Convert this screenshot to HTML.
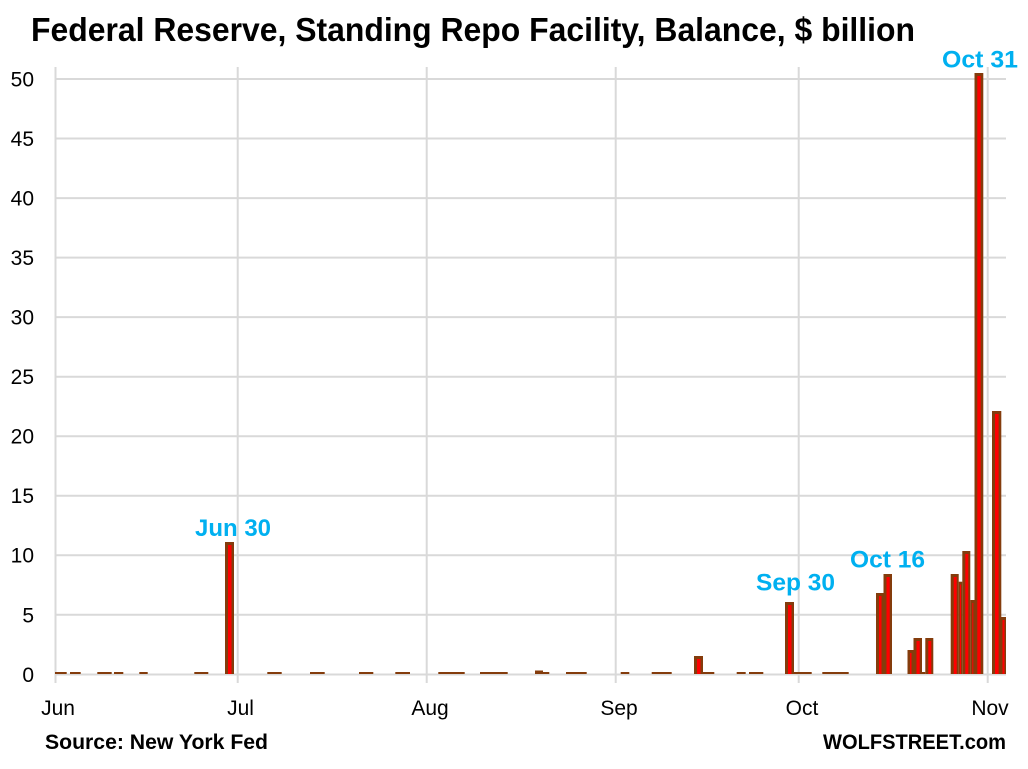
<!DOCTYPE html>
<html><head><meta charset="utf-8"><style>
html,body{margin:0;padding:0;background:#fff;}
svg{display:block;}
text{font-family:"Liberation Sans",Arial,sans-serif;}
</style></head><body>
<svg width="1028" height="769" viewBox="0 0 1028 769" xmlns="http://www.w3.org/2000/svg">
<rect width="1028" height="769" fill="#fff"/>
<text x="31" y="41" font-size="33" font-weight="bold" fill="#000" textLength="884" lengthAdjust="spacingAndGlyphs">Federal Reserve, Standing Repo Facility, Balance, $ billion</text>
<g stroke="#D9D9D9" stroke-width="2">
<line x1="55" y1="79" x2="1006" y2="79"/>
<line x1="55" y1="138.5" x2="1006" y2="138.5"/>
<line x1="55" y1="198.1" x2="1006" y2="198.1"/>
<line x1="55" y1="257.6" x2="1006" y2="257.6"/>
<line x1="55" y1="317.1" x2="1006" y2="317.1"/>
<line x1="55" y1="376.7" x2="1006" y2="376.7"/>
<line x1="55" y1="436.2" x2="1006" y2="436.2"/>
<line x1="55" y1="495.7" x2="1006" y2="495.7"/>
<line x1="55" y1="555.2" x2="1006" y2="555.2"/>
<line x1="55" y1="614.8" x2="1006" y2="614.8"/>
<line x1="55" y1="674.5" x2="1006" y2="674.5"/>
<line x1="55.5" y1="67" x2="55.5" y2="683"/>
<line x1="237.7" y1="67" x2="237.7" y2="683"/>
<line x1="426.7" y1="67" x2="426.7" y2="683"/>
<line x1="615.7" y1="67" x2="615.7" y2="683"/>
<line x1="798.7" y1="67" x2="798.7" y2="683"/>
<line x1="987.7" y1="67" x2="987.7" y2="683"/>
</g>
<g font-size="21" fill="#000" text-anchor="end">
<text x="34" y="86.5">50</text>
<text x="34" y="146">45</text>
<text x="34" y="205.6">40</text>
<text x="34" y="265.1">35</text>
<text x="34" y="324.6">30</text>
<text x="34" y="384.2">25</text>
<text x="34" y="443.7">20</text>
<text x="34" y="503.2">15</text>
<text x="34" y="562.7">10</text>
<text x="34" y="622.3">5</text>
<text x="34" y="681.8">0</text>
</g>
<g font-size="21" fill="#000" text-anchor="middle">
<text x="58" y="715">Jun</text>
<text x="240.5" y="715">Jul</text>
<text x="430" y="715">Aug</text>
<text x="619" y="715">Sep</text>
<text x="802" y="715">Oct</text>
<text x="990" y="715">Nov</text>
</g>
<g fill="#843C0C">
<rect x="55" y="672" width="11.7" height="2"/>
<rect x="70" y="672" width="10.7" height="2"/>
<rect x="97.3" y="672" width="14.4" height="2"/>
<rect x="114" y="672" width="9.3" height="2"/>
<rect x="139.3" y="672" width="8.4" height="2"/>
<rect x="194.3" y="672" width="14" height="2"/>
<rect x="267.3" y="672" width="14.4" height="2"/>
<rect x="310" y="672" width="14.7" height="2"/>
<rect x="359" y="672" width="14.3" height="2"/>
<rect x="395.3" y="672" width="14.7" height="2"/>
<rect x="438.3" y="672" width="26.4" height="2"/>
<rect x="480" y="672" width="27.7" height="2"/>
<rect x="543" y="672" width="6.3" height="2"/>
<rect x="566" y="672" width="20.7" height="2"/>
<rect x="620.7" y="672" width="8.6" height="2"/>
<rect x="651.7" y="672" width="20" height="2"/>
<rect x="702.7" y="672" width="11.6" height="2"/>
<rect x="736.7" y="672" width="9" height="2"/>
<rect x="749" y="672" width="14.3" height="2"/>
<rect x="794" y="672" width="17.7" height="2"/>
<rect x="822.3" y="672" width="26.4" height="2"/>
<rect x="921.7" y="672" width="3.6" height="2"/>
<rect x="535" y="670.5" width="8" height="3.5"/>
<rect x="225" y="542" width="9" height="132"/>
<rect x="694" y="656" width="9" height="18"/>
<rect x="785" y="602" width="9" height="72"/>
<rect x="876" y="593" width="7.5" height="81"/>
<rect x="883.5" y="574" width="8.5" height="100"/>
<rect x="907.5" y="650" width="6" height="24"/>
<rect x="913.5" y="638" width="8.5" height="36"/>
<rect x="925.3" y="638" width="8" height="36"/>
<rect x="950.7" y="574" width="8" height="100"/>
<rect x="958.7" y="581.7" width="3.6" height="92.3"/>
<rect x="962.3" y="551" width="8" height="123"/>
<rect x="970.3" y="600" width="4.7" height="74"/>
<rect x="974.5" y="73" width="8.8" height="601"/>
<rect x="992" y="411" width="9.3" height="263"/>
<rect x="1000.5" y="617" width="5.5" height="57"/>
</g>
<g fill="#FF0000">
<rect x="228" y="545" width="3.5" height="129"/>
<rect x="697" y="659" width="3.5" height="15"/>
<rect x="788" y="605" width="3.5" height="69"/>
<rect x="879" y="596" width="2.5" height="78"/>
<rect x="886.5" y="577" width="3.2" height="97"/>
<rect x="910" y="653" width="1.5" height="21"/>
<rect x="916.5" y="641" width="3.2" height="33"/>
<rect x="928.3" y="641" width="3" height="33"/>
<rect x="953.7" y="577" width="3" height="97"/>
<rect x="959.9" y="584.5" width="1.2" height="89.5"/>
<rect x="965.3" y="554" width="3" height="120"/>
<rect x="972.3" y="603" width="1" height="71"/>
<rect x="977.3" y="76" width="3.4" height="598"/>
<rect x="995" y="414" width="3.6" height="260"/>
<rect x="1002.5" y="620" width="2" height="54"/>
</g>
<g font-size="24" font-weight="bold" fill="#00B0F0">
<text x="195" y="536" textLength="76" lengthAdjust="spacingAndGlyphs">Jun 30</text>
<text x="756" y="590.7" textLength="79" lengthAdjust="spacingAndGlyphs">Sep 30</text>
<text x="850" y="567.3" textLength="75" lengthAdjust="spacingAndGlyphs">Oct 16</text>
<text x="942" y="67.3" textLength="76" lengthAdjust="spacingAndGlyphs">Oct 31</text>
</g>
<text x="45" y="749" font-size="21" font-weight="bold" fill="#000" textLength="223" lengthAdjust="spacingAndGlyphs">Source: New York Fed</text>
<text x="823" y="749" font-size="21" font-weight="bold" fill="#000" textLength="183" lengthAdjust="spacingAndGlyphs">WOLFSTREET.com</text>
</svg>
</body></html>
